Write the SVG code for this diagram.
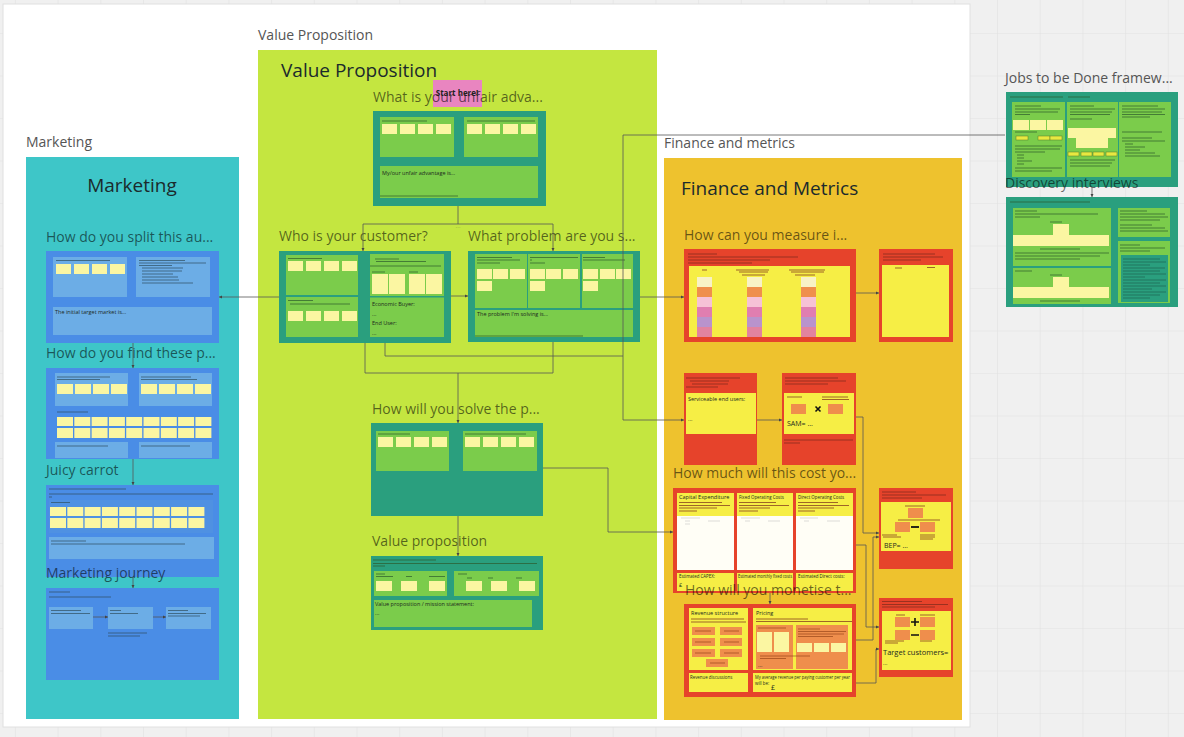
<svg xmlns="http://www.w3.org/2000/svg" width="1184" height="737" viewBox="0 0 1184 737">
<defs>
<pattern id="grid" x="997" y="33" width="42.7" height="42.5" patternUnits="userSpaceOnUse">
<path d="M0 0V42.5M0 0H42.7" fill="none" stroke="#e2e2e2" stroke-width="1.2"/>
</pattern>
<marker id="ar" viewBox="0 0 6 6" refX="6" refY="3" markerWidth="4" markerHeight="4" orient="auto"><path d="M0 0L6 3L0 6z" fill="#444"/></marker>
<style>
.lbl{font-family:"Open Sans","Liberation Sans",sans-serif;font-size:14px;fill:#555}
.ttl{font-family:"Open Sans","Liberation Sans",sans-serif;font-size:19px;fill:#1b2a2c}
.q{font-family:"Open Sans","Liberation Sans",sans-serif;font-size:14px;fill:#000;fill-opacity:.58}
.t{font-family:"Open Sans","Liberation Sans",sans-serif;font-size:5.5px;fill:#1d2a1d}
.ts{font-family:"Open Sans","Liberation Sans",sans-serif;font-size:4.4px;fill:#1d2a1d}
.t7{font-family:"Open Sans","Liberation Sans",sans-serif;font-size:7px;fill:#1d2a1d}
.bf{fill:#4a8de6}
.bi{fill:#6cade6}
.tf{fill:#2a9f7e}
.gi{fill:#7bcc4b}
.st{fill:#fbf6a2}
.rf{fill:#e6432b}
.yi{fill:#f6ee45}
.or{fill:#ef8e4c}
.wh{fill:#fffef6}
.ln{stroke:#2f4f5f;stroke-width:.7;fill:none}
.lg{stroke:#2c5a2c;stroke-width:.7;fill:none}
.lr{stroke:#7a2a1a;stroke-width:.7;fill:none}
.cn{stroke:#555;stroke-width:.8;fill:none}
</style>
</defs>
<rect width="1184" height="737" fill="#f0f0f0"/>
<rect width="1184" height="737" fill="url(#grid)"/>
<rect x="3" y="4" width="967" height="723" fill="#ffffff" stroke="#e0e0e0"/>

<g id="marketing">
<text class="lbl" x="26" y="147">Marketing</text>
<rect x="26" y="157" width="213" height="562" fill="#3ec6c8"/>
<text class="ttl" x="132" y="192" text-anchor="middle">Marketing</text>
</g>

<g id="m-split">
<text class="q" x="46" y="242">How do you split this au...</text>
<rect class="bf" x="46" y="251" width="173" height="92"/>
<rect class="bi" x="53" y="257" width="74" height="40"/>
<rect class="bi" x="136" y="257" width="74" height="40"/>
<rect class="bi" x="53" y="307" width="159" height="28"/>
<path class="ln" d="M56 260.5H110M139 260.5H185M139 263H206M139 265.5H172M142 268H183M142 271H182M142 274H173M142 277H178M142 280H179M142 283H193"/>
<rect class="st" x="56" y="264" width="15" height="10"/>
<rect class="st" x="74" y="264" width="15" height="10"/>
<rect class="st" x="92" y="264" width="15" height="10"/>
<rect class="st" x="110" y="264" width="15" height="10"/>
<text class="t" x="55" y="314">The initial target market is...</text>
</g>

<g id="m-find">
<text class="q" x="46" y="358">How do you find these p...</text>
<rect class="bf" x="46" y="368" width="173" height="91"/>
<rect class="bi" x="55" y="373" width="73" height="33"/>
<rect class="bi" x="139" y="373" width="73" height="33"/>
<rect class="bi" x="55" y="442" width="73" height="16"/>
<rect class="bi" x="139" y="442" width="73" height="16"/>
<path class="ln" d="M57 377H110M57 379.5H100M141 377H191M141 379.5H197M57 412H88M57 446H108M141 446H190"/>
<rect class="st" x="57" y="384" width="16" height="10"/><rect class="st" x="75" y="384" width="16" height="10"/><rect class="st" x="93" y="384" width="16" height="10"/><rect class="st" x="111" y="384" width="16" height="10"/>
<rect class="st" x="141" y="384" width="16" height="10"/><rect class="st" x="159" y="384" width="16" height="10"/><rect class="st" x="177" y="384" width="16" height="10"/><rect class="st" x="195" y="384" width="16" height="10"/>
<rect class="st" x="57" y="417" width="16" height="9"/><rect class="st" x="74.3" y="417" width="16" height="9"/><rect class="st" x="91.6" y="417" width="16" height="9"/><rect class="st" x="108.9" y="417" width="16" height="9"/><rect class="st" x="126.2" y="417" width="16" height="9"/><rect class="st" x="143.5" y="417" width="16" height="9"/><rect class="st" x="160.8" y="417" width="16" height="9"/><rect class="st" x="178.1" y="417" width="16" height="9"/><rect class="st" x="195.4" y="417" width="16" height="9"/>
<rect class="st" x="57" y="428" width="16" height="10"/><rect class="st" x="74.3" y="428" width="16" height="10"/><rect class="st" x="91.6" y="428" width="16" height="10"/><rect class="st" x="108.9" y="428" width="16" height="10"/><rect class="st" x="126.2" y="428" width="16" height="10"/><rect class="st" x="143.5" y="428" width="16" height="10"/><rect class="st" x="160.8" y="428" width="16" height="10"/><rect class="st" x="178.1" y="428" width="16" height="10"/><rect class="st" x="195.4" y="428" width="16" height="10"/>
</g>

<g id="m-carrot">
<text class="q" x="46" y="475">Juicy carrot</text>
<rect class="bf" x="46" y="485" width="173" height="92"/>
<rect x="49" y="500" width="164" height="33" fill="#4f91e2"/>
<rect class="bi" x="49" y="537" width="165" height="22"/>
<path class="ln" d="M49 489H126M49 494H213M49 497H52M51 502.5H70M51 541H86M51 544H185"/>
<rect class="st" x="50" y="507" width="16" height="9"/><rect class="st" x="67.3" y="507" width="16" height="9"/><rect class="st" x="84.6" y="507" width="16" height="9"/><rect class="st" x="101.9" y="507" width="16" height="9"/><rect class="st" x="119.2" y="507" width="16" height="9"/><rect class="st" x="136.5" y="507" width="16" height="9"/><rect class="st" x="153.8" y="507" width="16" height="9"/><rect class="st" x="171.1" y="507" width="16" height="9"/><rect class="st" x="188.4" y="507" width="16" height="9"/>
<rect class="st" x="50" y="518" width="16" height="10"/><rect class="st" x="67.3" y="518" width="16" height="10"/><rect class="st" x="84.6" y="518" width="16" height="10"/><rect class="st" x="101.9" y="518" width="16" height="10"/><rect class="st" x="119.2" y="518" width="16" height="10"/><rect class="st" x="136.5" y="518" width="16" height="10"/><rect class="st" x="153.8" y="518" width="16" height="10"/><rect class="st" x="171.1" y="518" width="16" height="10"/><rect class="st" x="188.4" y="518" width="16" height="10"/>
</g>

<g id="m-journey">
<rect class="bf" x="46" y="588" width="173" height="92"/>
<rect class="bi" x="49" y="607" width="44" height="22"/>
<rect class="bi" x="108" y="607" width="45" height="22"/>
<rect class="bi" x="166" y="607" width="45" height="22"/>
<path class="ln" d="M49 592H70M49 597H111M51 610.5H81M51 613.5H90M110 610.5H121M110 613.5H138M168 610.5H188M168 613.5H206M168 616H200M108 633H147M108 636H140"/>
<text class="q" x="46" y="578">Marketing journey</text>
</g>

<g id="valueprop">
<text class="lbl" x="258" y="40">Value Proposition</text>
<rect x="258" y="50" width="399" height="669" fill="#c4e640"/>
<text class="ttl" x="281" y="77">Value Proposition</text>
</g>

<g id="vp-unfair">
<rect class="tf" x="373" y="111" width="173" height="95"/>
<rect class="gi" x="380" y="117" width="74" height="40"/>
<rect class="gi" x="464" y="117" width="74" height="40"/>
<rect class="gi" x="380" y="166" width="158" height="32"/>
<path class="lg" d="M382 121H427M467 121H535M380 196H458"/>
<rect class="st" x="382" y="124" width="15" height="10"/><rect class="st" x="400" y="124" width="15" height="10"/><rect class="st" x="418" y="124" width="15" height="10"/><rect class="st" x="436" y="124" width="15" height="10"/>
<rect class="st" x="467" y="124" width="15" height="10"/><rect class="st" x="485" y="124" width="15" height="10"/><rect class="st" x="503" y="124" width="15" height="10"/><rect class="st" x="521" y="124" width="15" height="10"/>
<text class="t" x="382" y="175">My/our unfair advantage is...</text>
<rect x="433" y="80" width="49" height="27" fill="#e985c0"/>
<text class="q" x="373" y="102">What is your unfair adva...</text>
<text x="457" y="96" text-anchor="middle" font-family="Open Sans, Liberation Sans, sans-serif" font-size="8" font-weight="bold" fill="#222">Start here!</text>
</g>

<g id="vp-customer">
<text class="q" x="279" y="241">Who is your customer?</text>
<rect class="tf" x="279" y="251" width="172" height="92"/>
<rect class="gi" x="286" y="255" width="72" height="40"/>
<rect class="gi" x="286" y="297" width="72" height="40"/>
<rect class="gi" x="370" y="254" width="74" height="42"/>
<rect class="gi" x="370" y="297.5" width="74" height="39.5"/>
<path class="lg" d="M288 258.5H322M288 300.5H313M290 304H350M375 259H399M376 261.5H426M370 266H441M372 272H385M409 272H418"/>
<rect class="st" x="288" y="261" width="15" height="10"/><rect class="st" x="306" y="261" width="15" height="10"/><rect class="st" x="324" y="261" width="15" height="10"/><rect class="st" x="342" y="261" width="15" height="10"/>
<rect class="st" x="288" y="311" width="15" height="10"/><rect class="st" x="306" y="311" width="15" height="10"/><rect class="st" x="324" y="311" width="15" height="10"/><rect class="st" x="342" y="311" width="15" height="10"/>
<rect class="st" x="372" y="274" width="16" height="20"/><rect class="st" x="389" y="274" width="16" height="20"/><rect class="st" x="409" y="274" width="16" height="20"/><rect class="st" x="426" y="274" width="16" height="20"/>
<text class="t" x="372" y="306">Economic Buyer:</text>
<text class="t" x="372" y="316">...</text>
<text class="t" x="372" y="325">End User:</text>
<text class="t" x="372" y="335">...</text>
</g>

<g id="vp-problem">
<text class="q" x="468" y="241">What problem are you s...</text>
<rect class="tf" x="468" y="251" width="172" height="91"/>
<rect class="gi" x="475" y="254" width="52" height="54"/>
<rect class="gi" x="528" y="254" width="52" height="54"/>
<rect class="gi" x="582" y="254" width="51" height="54"/>
<rect class="gi" x="475" y="310" width="158" height="27"/>
<path class="lg" d="M477 257.5H512M477 260H520M477 263H500M530 257.5H578M530 260H532M530 263H545M583 257.5H605M583 260H625M475 336H583"/>
<rect class="st" x="477" y="269" width="15" height="10"/><rect class="st" x="493" y="269" width="15" height="10"/><rect class="st" x="510" y="269" width="15" height="10"/>
<rect class="st" x="530" y="269" width="15" height="10"/><rect class="st" x="546" y="269" width="15" height="10"/><rect class="st" x="563" y="269" width="15" height="10"/>
<rect class="st" x="583" y="269" width="15" height="10"/><rect class="st" x="600" y="269" width="15" height="10"/><rect class="st" x="616" y="269" width="15" height="10"/>
<rect class="st" x="477" y="281" width="15" height="10"/><rect class="st" x="530" y="281" width="15" height="10"/><rect class="st" x="583" y="281" width="15" height="10"/>
<text class="t" x="477" y="316">The problem I'm solving is...</text>
</g>

<g id="vp-solve">
<text class="q" x="372" y="414">How will you solve the p...</text>
<rect class="tf" x="371" y="423" width="172" height="93"/>
<rect class="gi" x="376" y="431" width="73" height="40"/>
<rect class="gi" x="463" y="431" width="74" height="40"/>
<path class="lg" d="M378 434H410M465 434H526"/>
<rect class="st" x="378" y="437" width="15" height="10"/><rect class="st" x="396" y="437" width="15" height="10"/><rect class="st" x="414" y="437" width="15" height="10"/><rect class="st" x="432" y="437" width="15" height="10"/>
<rect class="st" x="465" y="437" width="15" height="10"/><rect class="st" x="483" y="437" width="15" height="10"/><rect class="st" x="501" y="437" width="15" height="10"/><rect class="st" x="519" y="437" width="15" height="10"/>
</g>

<g id="vp-statement">
<text class="q" x="372" y="546">Value proposition</text>
<rect class="tf" x="371" y="556" width="172" height="74"/>
<path class="lg" d="M373 560H436M373 563.5H537M373 566H385"/>
<rect class="gi" x="374" y="571" width="73" height="25"/>
<rect class="gi" x="454" y="571" width="85" height="25"/>
<path class="lg" d="M376 574H385M376 576.5H393M406 576.5H412M429 576.5H445M458 574H467M467 578H472M488 578H493M516 578H522"/>
<rect class="st" x="376" y="581" width="16" height="10"/><rect class="st" x="401" y="581" width="16" height="10"/><rect class="st" x="429" y="581" width="16" height="10"/>
<rect class="st" x="466" y="581" width="16" height="10"/><rect class="st" x="491" y="581" width="16" height="10"/><rect class="st" x="519" y="581" width="16" height="10"/>
<rect class="gi" x="374" y="600" width="158" height="27"/>
<text class="t" x="375" y="606">Value proposition / mission statement:</text>
<text class="t" x="375" y="615">...</text>
</g>

<g id="finance">
<text class="lbl" x="664" y="148">Finance and metrics</text>
<rect x="664" y="158" width="298" height="562" fill="#eec22e"/>
<text class="ttl" x="681" y="195">Finance and Metrics</text>
</g>

<g id="f-measure">
<text class="q" x="684" y="240">How can you measure i...</text>
<rect class="rf" x="684" y="249" width="172" height="93"/>
<rect class="yi" x="689" y="266" width="161" height="71"/>
<path class="lr" d="M688 254H717M688 257H798M688 260H770M688 263H752M702 270H707M736 270H769M739 272H768M742 275H765M789 270H825M791 272H824M795 275H815"/>
<rect x="697" y="277" width="15" height="10" fill="#f8f2c6"/><rect x="697" y="287" width="15" height="10" fill="#ef8f4c"/><rect x="697" y="297" width="15" height="10" fill="#f6c2d6"/><rect x="697" y="307" width="15" height="10" fill="#e07eb0"/><rect x="697" y="317" width="15" height="10" fill="#b993cc"/><rect x="697" y="327" width="15" height="10" fill="#e2839f"/>
<rect x="747" y="277" width="15" height="10" fill="#f8f2c6"/><rect x="747" y="287" width="15" height="10" fill="#ef8f4c"/><rect x="747" y="297" width="15" height="10" fill="#f6c2d6"/><rect x="747" y="307" width="15" height="10" fill="#e07eb0"/><rect x="747" y="317" width="15" height="10" fill="#b993cc"/><rect x="747" y="327" width="15" height="10" fill="#e2839f"/>
<rect x="801" y="277" width="15" height="10" fill="#f8f2c6"/><rect x="801" y="287" width="15" height="10" fill="#ef8f4c"/><rect x="801" y="297" width="15" height="10" fill="#f6c2d6"/><rect x="801" y="307" width="15" height="10" fill="#e07eb0"/><rect x="801" y="317" width="15" height="10" fill="#b993cc"/><rect x="801" y="327" width="15" height="10" fill="#e2839f"/>
</g>

<g id="f-measure2">
<rect class="rf" x="879" y="249" width="74" height="93"/>
<rect class="yi" x="882" y="265" width="67" height="72"/>
<path class="lr" d="M883 254H935M883 257H943M883 260H921M895 268H902M927 267.5H935"/>
</g>

<g id="f-serviceable">
<rect class="rf" x="684" y="373" width="73" height="92"/>
<rect class="yi" x="686" y="393" width="70" height="41"/>
<path class="lr" d="M686 378H740M690 381H729M692 384H728M686 387H718"/>
<text class="t" x="688" y="401">Serviceable end users:</text>
<text class="t" x="688" y="421">...</text>
</g>

<g id="f-sam">
<rect class="rf" x="782" y="373" width="74" height="92"/>
<rect class="yi" x="784" y="393" width="70" height="41"/>
<path class="lr" d="M785 378H838M785 381H846M785 384H828M787 397H802M822 397H848M822 399.5H849M784 440H853M784 443H800"/>
<rect class="or" x="791" y="404" width="15" height="10"/>
<rect class="or" x="828" y="404" width="15" height="10"/>
<path d="M815.5 406.5L820.5 411.5M820.5 406.5L815.5 411.5" stroke="#111" stroke-width="1.6"/>
<text class="t7" x="787" y="426">SAM= ...</text>
</g>

<g id="f-cost">
<text class="q" x="673" y="478">How much will this cost yo...</text>
<rect class="rf" x="673" y="488" width="183" height="105"/>
<rect class="yi" x="677" y="493" width="57" height="77"/>
<rect class="yi" x="737" y="493" width="56" height="77"/>
<rect class="yi" x="796" y="493" width="57" height="77"/>
<rect class="wh" x="677" y="516" width="57" height="54"/>
<rect class="wh" x="737" y="516" width="56" height="54"/>
<rect class="wh" x="796" y="516" width="57" height="54"/>
<rect class="yi" x="677" y="573" width="57" height="18"/>
<rect class="yi" x="737" y="573" width="56" height="18"/>
<rect class="yi" x="796" y="573" width="57" height="18"/>
<path class="lr" d="M679 502.5H722M679 505.5H730M679 508H717M679 511H697M739 502.5H776M739 505.5H789M739 508H770M739 511H758M798 502.5H838M798 505.5H849M798 508H834M798 511H815"/>
<path stroke="#bbb" stroke-width=".5" fill="none" d="M681 518H700M685 521H690M708 521H720M685 524H690M741 518H760M745 521H750M768 521H780M800 518H818M804 521H809M827 521H840"/>
<text class="t" x="679" y="499">Capital Expenditure</text>
<text class="ts" x="739" y="499">Fixed Operating Costs</text>
<text class="ts" x="798" y="499">Direct Operating Costs</text>
<text class="ts" x="679" y="578">Estimated CAPEX:</text>
<text class="t" x="679" y="587">£</text>
<text class="ts" x="738" y="578" textLength="54" lengthAdjust="spacingAndGlyphs">Estimated monthly fixed costs</text>
<text class="ts" x="798" y="578">Estimated Direct costs:</text>
</g>

<g id="f-bep">
<rect class="rf" x="879" y="488" width="74" height="81"/>
<rect class="yi" x="881" y="502" width="70" height="49"/>
<path class="lr" d="M882 492H916M882 495H946M882 498H922M905 506H925M898 520H940M882 535H897M883 537H901M920 535H935M920 537H935M920 539H933"/>
<rect class="or" x="908" y="508" width="15" height="10"/>
<rect class="or" x="895" y="522" width="15" height="10"/>
<rect class="or" x="920" y="522" width="15" height="10"/>
<path d="M911 527H919" stroke="#111" stroke-width="1.8"/>
<text class="t7" x="884" y="548">BEP= ...</text>
</g>

<g id="f-monetise">
<rect class="rf" x="684" y="604" width="172" height="93"/>
<rect class="yi" x="689" y="608" width="59" height="62"/>
<rect class="yi" x="753" y="608" width="99" height="62"/>
<rect class="yi" x="689" y="673" width="59" height="19"/>
<rect class="yi" x="753" y="673" width="99" height="19"/>
<path class="lr" d="M691 619H744M691 622H746M756 619H808M756 621.5H852"/>
<rect class="or" x="692" y="627" width="23" height="8"/><rect class="or" x="720" y="627" width="22" height="8"/>
<rect class="or" x="692" y="638" width="23" height="8"/><rect class="or" x="720" y="638" width="22" height="8"/>
<rect class="or" x="692" y="649" width="23" height="8"/><rect class="or" x="720" y="649" width="22" height="8"/>
<rect class="or" x="706" y="659" width="22" height="8"/>
<rect class="or" x="756" y="625" width="37" height="44"/>
<rect class="or" x="796" y="625" width="52" height="44"/>
<rect class="st" x="757" y="632" width="15" height="20"/><rect class="st" x="774" y="632" width="15" height="20"/>
<rect class="st" x="797" y="643" width="15" height="9"/><rect class="st" x="814" y="643" width="15" height="9"/><rect class="st" x="831" y="643" width="15" height="9"/>
<path stroke="#8a3a10" stroke-width=".6" fill="none" d="M758 628H786M798 629H820M798 631.5H846M798 634H844M798 636.5H833M760 656H810M760 658.5H786M695 631H711M724 631H739M695 642H711M724 642H739M695 653H711M724 653H739M710 663H725"/>
<text class="t" x="691" y="615">Revenue structure</text>
<text class="t" x="756" y="615">Pricing</text>
<text class="t" x="758" y="667">...</text>
<text class="ts" x="690" y="679">Revenue discussions</text>
<text class="ts" x="755" y="679" textLength="95" lengthAdjust="spacingAndGlyphs">My average revenue per paying customer per year</text>
<text class="ts" x="755" y="684.5">will be:</text>
<text class="t7" x="771" y="690">£</text>
<text class="q" x="685" y="595">How will you monetise t...</text>
</g>

<g id="f-target">
<rect class="rf" x="879" y="598" width="74" height="79"/>
<rect class="yi" x="882" y="611" width="69" height="59"/>
<path class="lr" d="M882 601.5H922M882 604.5H948M882 607H935M896 615H905M920 615H935M885 641H904M885 643H898M920 641H932"/>
<rect class="or" x="895" y="617" width="15" height="10"/>
<rect class="or" x="920" y="617" width="15" height="10"/>
<rect class="or" x="895" y="630" width="15" height="10"/>
<rect class="or" x="920" y="630" width="15" height="10"/>
<path d="M911 622H919M915 618V626M911 635H919" stroke="#111" stroke-width="1.6"/>
<text font-family="Open Sans, Liberation Sans, sans-serif" font-size="7.5" fill="#1d2a1d" x="883" y="655">Target customers=</text>
<text class="t" x="883" y="665">...</text>
</g>

<g id="jtbd">
<text class="lbl" x="1005" y="83">Jobs to be Done framew...</text>
<rect class="tf" x="1006" y="92" width="172" height="95"/>
<rect class="gi" x="1012" y="102" width="53" height="75"/>
<rect class="gi" x="1067" y="102" width="51" height="75"/>
<rect class="gi" x="1119" y="102" width="52" height="75"/>
<path class="lg" d="M1010 97H1063M1068 97H1090M1015 106H1041M1015 109H1060M1015 112H1058M1015 114.5H1030M1070 106H1094M1070 109H1115M1070 112H1112M1070 114.5H1110M1070 119H1092M1122 106H1158M1122 109H1165M1122 112H1162M1122 114.5H1165M1122 117H1150M1015 132H1037M1015 146H1062M1015 149H1060M1015 152H1045M1017 155H1024M1017 158H1024M1017 161H1032M1017 164H1024M1015 168H1062M1015 171H1052M1070 160H1115M1070 163H1112M1070 166H1110M1122 132H1162M1122 138H1152M1122 141H1165M1125 144H1133M1125 147H1145M1125 150H1140M1125 153H1155M1125 156H1160"/>
<rect class="st" x="1013" y="120" width="16" height="10"/><rect class="st" x="1030" y="120" width="16" height="10"/><rect class="st" x="1047" y="120" width="16" height="10"/>
<rect x="1016" y="136" width="12" height="4" fill="#e8e840" stroke="#557a2a" stroke-width=".5"/><rect x="1038" y="136" width="12" height="4" fill="#e8e840" stroke="#557a2a" stroke-width=".5"/><rect x="1050" y="136" width="12" height="4" fill="#e8e840" stroke="#557a2a" stroke-width=".5"/>
<rect class="st" x="1068" y="128" width="16" height="10"/><rect class="st" x="1084" y="128" width="16" height="10"/><rect class="st" x="1100" y="128" width="16" height="10"/>
<rect class="st" x="1076" y="138" width="16" height="10"/><rect class="st" x="1092" y="138" width="16" height="10"/>
<rect x="1068" y="152" width="11" height="4" fill="#e8e840" stroke="#557a2a" stroke-width=".5"/><rect x="1081" y="152" width="11" height="4" fill="#e8e840" stroke="#557a2a" stroke-width=".5"/><rect x="1093" y="152" width="11" height="4" fill="#e8e840" stroke="#557a2a" stroke-width=".5"/><rect x="1106" y="152" width="11" height="4" fill="#e8e840" stroke="#557a2a" stroke-width=".5"/>
</g>

<g id="discovery">
<rect class="tf" x="1006" y="197" width="172" height="110"/>
<rect class="gi" x="1013" y="208" width="98" height="58"/>
<rect class="gi" x="1013" y="268" width="98" height="36"/>
<rect class="gi" x="1118" y="208" width="52" height="29"/>
<rect class="gi" x="1118" y="241" width="52" height="62"/>
<rect x="1121" y="255" width="47" height="47" fill="#2a9f7e"/>
<path class="lg" d="M1010 202H1090M1015 211H1037M1015 214H1098M1015 217H1040M1050 222H1062M1015 253H1109M1015 256H1100M1015 259H1080M1015 271H1032M1050 275H1062M1120 211H1147M1120 214H1165M1120 217H1168M1120 220H1160M1120 225H1152M1120 228H1165M1120 231H1168M1120 245H1140M1120 248H1165M1120 251H1150M1040 249H1080M1040 301H1080"/>
<path stroke="#1d5a4a" stroke-width=".6" fill="none" d="M1123 259H1160M1123 262H1166M1123 265H1150M1123 268H1165M1123 271H1160M1123 274H1166M1123 277H1145M1123 280H1166M1123 283H1160M1123 286H1166M1123 289H1152M1123 292H1166M1123 295H1160M1123 298H1150"/>
<rect class="st" x="1053" y="224" width="16" height="11"/>
<rect class="st" x="1013" y="235" width="16" height="11"/><rect class="st" x="1029" y="235" width="16" height="11"/><rect class="st" x="1045" y="235" width="16" height="11"/><rect class="st" x="1061" y="235" width="16" height="11"/><rect class="st" x="1077" y="235" width="16" height="11"/><rect class="st" x="1093" y="235" width="16" height="11"/>
<rect class="st" x="1053" y="277" width="16" height="10"/>
<rect class="st" x="1013" y="287" width="16" height="11"/><rect class="st" x="1029" y="287" width="16" height="11"/><rect class="st" x="1045" y="287" width="16" height="11"/><rect class="st" x="1061" y="287" width="16" height="11"/><rect class="st" x="1077" y="287" width="16" height="11"/><rect class="st" x="1093" y="287" width="16" height="11"/>
<text class="q" x="1005" y="188">Discovery interviews</text>
</g>

<g id="connectors">
<path class="cn" d="M279 297H219" marker-end="url(#ar)"/>
<path class="cn" d="M451 296H468" marker-end="url(#ar)"/>
<path class="cn" d="M640 297H684" marker-end="url(#ar)"/>
<path class="cn" d="M856 293H879" marker-end="url(#ar)"/>
<path class="cn" d="M133 343V368" marker-end="url(#ar)"/>
<path class="cn" d="M133 459V485" marker-end="url(#ar)"/>
<path class="cn" d="M133 577V588" marker-end="url(#ar)"/>
<path class="cn" d="M93 617H108" marker-end="url(#ar)"/>
<path class="cn" d="M153 617H166" marker-end="url(#ar)"/>
<path class="cn" d="M458 206V224H363V251" marker-end="url(#ar)"/>
<path class="cn" d="M458 224H553V251" marker-end="url(#ar)"/>
<path class="cn" d="M365 343V373H553V342"/>
<path class="cn" d="M458 373V423" marker-end="url(#ar)"/>
<path class="cn" d="M385 343V356H623"/>
<path class="cn" d="M1005 135H623V420H684" marker-end="url(#ar)"/>
<path class="cn" d="M458 516V556" marker-end="url(#ar)"/>
<path class="cn" d="M543 468H608V532H673" marker-end="url(#ar)"/>
<path class="cn" d="M757 420H782" marker-end="url(#ar)"/>
<path class="cn" d="M856 417H863V533H879" marker-end="url(#ar)"/>
<path class="cn" d="M856 545H866V627H879" marker-end="url(#ar)"/>
<path class="cn" d="M856 640H873V537H879" marker-end="url(#ar)"/>
<path class="cn" d="M856 683H876V649H879" marker-end="url(#ar)"/>
<path class="cn" d="M770 593V604" marker-end="url(#ar)"/>
<path class="cn" d="M1092 187V197" marker-end="url(#ar)"/>
<text font-family="Open Sans, Liberation Sans, sans-serif" font-size="3.5" fill="#444" x="458" y="229" text-anchor="middle">· · ·</text>
</g>
</svg>
